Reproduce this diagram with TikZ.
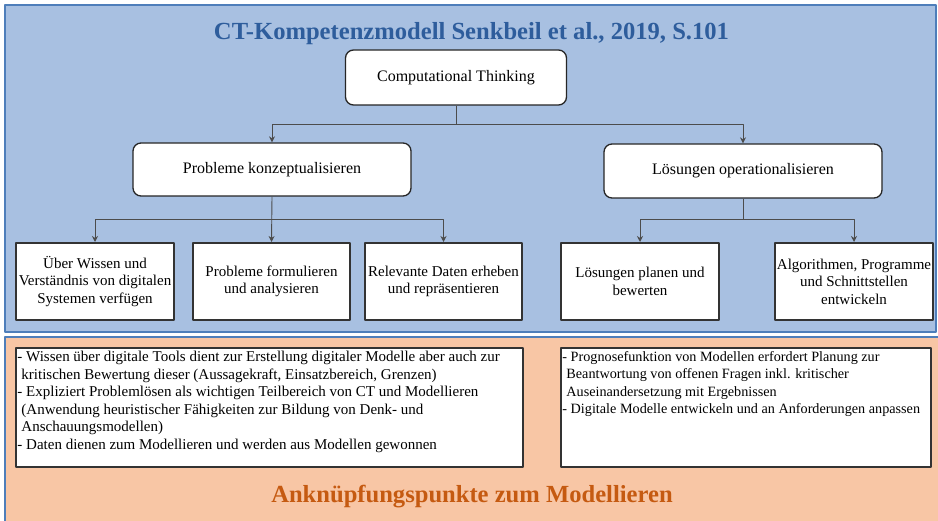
\documentclass[tikz,border=0pt]{standalone}
\usepackage{fontspec}
\setmainfont{Liberation Serif}
\usetikzlibrary{arrows.meta}
\definecolor{panelblue}{HTML}{A8C0E1}
\definecolor{panelline}{HTML}{4E7EBA}
\definecolor{panelorange}{HTML}{F8C6A5}
\definecolor{titleblue}{HTML}{2E5D9C}
\definecolor{titleorange}{HTML}{C55A11}
\newcommand{\cont}{\hspace*{4pt}}
\begin{document}
\begin{tikzpicture}[x=1pt,y=-1pt,>={Stealth[length=6pt,width=6pt]}, line join=round,
	topbox/.style={draw=black!85, fill=white, rounded corners=8pt, line width=1.3pt, font=\fontsize{16}{19}\selectfont},
	leafbox/.style={draw=black!80, fill=white, line width=2pt, minimum width=157pt, minimum height=77pt, align=center, inner sep=2pt, font=\fontsize{15}{17.5}\selectfont},
	notebox/.style={draw=black!80, fill=white, line width=1.5pt, minimum height=119pt},
	notetext/.style={anchor=north west, align=left, inner sep=0pt, font=\fontsize{15}{17.5}\selectfont},
	link/.style={->, draw=black!70, line width=0.9pt}]
	\useasboundingbox (0,0) rectangle (938,521);
	% Hintergrund
	\fill[panelblue] (5,5) rectangle (936,332);
	\draw[panelline, line width=1.5pt] (5,5) rectangle (936,332);
	\fill[panelorange] (5,337) rectangle (938,521);
	\draw[panelline, line width=1.5pt] (5,521)--(5,337)--(938,337);
	% Titel
	\node[anchor=base, text=titleblue, font=\fontsize{24.6}{28}\selectfont\bfseries] (titel) at (471.5,40) {CT-Kompetenzmodell Senkbeil et al., 2019, S.101};
	\node[anchor=base, text=titleorange, font=\fontsize{24.6}{28}\selectfont\bfseries] (anknuepf) at (472,502) {Anknüpfungspunkte zum Modellieren};
	% Baum
	\node[topbox, minimum width=221pt, minimum height=55pt] (ct) at (456,77.5) {Computational Thinking};
	\node[topbox, minimum width=278pt, minimum height=53pt] (pk) at (272,169.5) {Probleme konzeptualisieren};
	\node[topbox, minimum width=278pt, minimum height=54pt] (lo) at (743,171) {Lösungen operationalisieren};
	\node[leafbox, minimum width=158pt] (w1) at (95,281.5) {Über Wissen und\\Verständnis von digitalen\\Systemen verfügen};
	\node[leafbox] (w2) at (271.5,281.5) {Probleme formulieren\\und analysieren};
	\node[leafbox] (w3) at (443.5,281.5) {Relevante Daten erheben\\und repräsentieren};
	\node[leafbox, minimum width=158pt] (w4) at (640,281.5) {Lösungen planen und\\bewerten};
	\node[leafbox, minimum width=158pt] (w5) at (854,281.5) {Algorithmen, Programme\\und Schnittstellen\\entwickeln};
	\coordinate (j0) at (456,124);
	\coordinate (j1) at (272,219);
	\coordinate (j2) at (743,219);
	\draw[draw=black!70, line width=0.9pt] (ct.south)--(j0);
	\draw[link] (j0) -| (pk.north);
	\draw[link] (j0) -| (lo.north);
	\draw[link] (pk.south)--(w2.north);
	\draw[link] (j1) -| (w1.north);
	\draw[link] (j1) -| (w3.north);
	\draw[draw=black!70, line width=0.9pt] (lo.south)--(j2);
	\draw[link] (j2) -| (w4.north);
	\draw[link] (j2) -| (w5.north);
	% Anknüpfungspunkte
	\node[notebox, minimum width=507pt] (n1) at (269.5,407.5) {};
	\node[notebox, minimum width=370pt] (n2) at (746,407.5) {};
	\node[notetext] (t1) at ([xshift=2pt,yshift=-4pt]n1.north west) {- Wissen über digitale Tools dient zur Erstellung digitaler Modelle aber auch zur\\
		\cont kritischen Bewertung dieser (Aussagekraft, Einsatzbereich, Grenzen)\\
		- Expliziert Problemlösen als wichtigen Teilbereich von CT und Modellieren\\
		\cont (Anwendung heuristischer Fähigkeiten zur Bildung von Denk- und\\
		\cont Anschauungsmodellen)\\
		- Daten dienen zum Modellieren und werden aus Modellen gewonnen};
	\node[notetext, font=\fontsize{14.2}{17.5}\selectfont] (t2) at ([xshift=2pt,yshift=-4pt]n2.north west) {- Prognosefunktion von Modellen erfordert Planung zur\\
		\cont Beantwortung von offenen Fragen inkl. kritischer\\
		\cont Auseinandersetzung mit Ergebnissen\\
		- Digitale Modelle entwickeln und an Anforderungen anpassen};
\end{tikzpicture}
\end{document}
